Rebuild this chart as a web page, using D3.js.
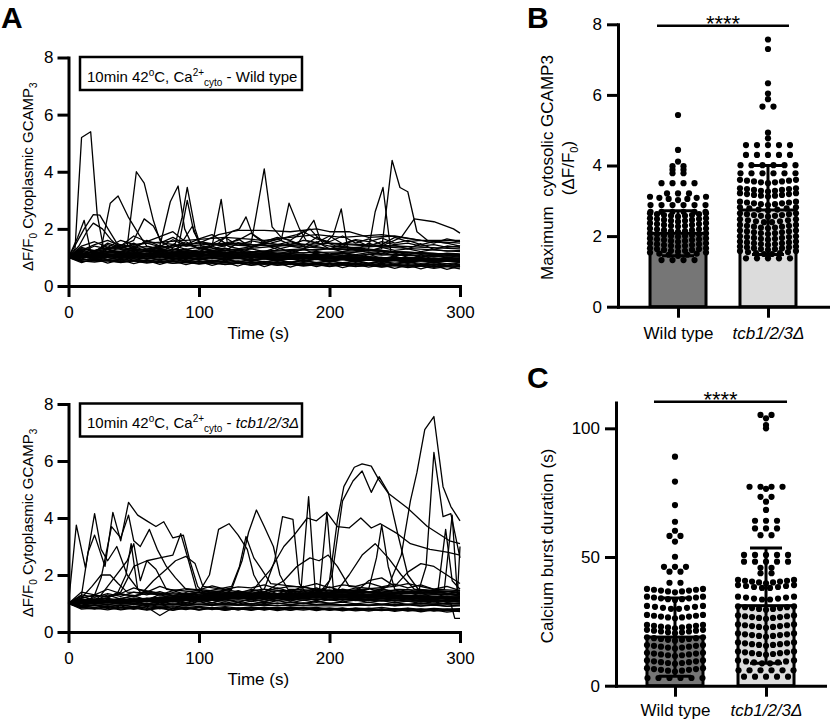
<!DOCTYPE html>
<html><head><meta charset="utf-8">
<script src="https://cdn.jsdelivr.net/npm/d3@7"></script>
<style>
body{margin:0;background:#fff;}
svg{display:block;}
text{white-space:pre;}
</style></head><body>
<svg id="chart" width="830" height="719"></svg>
<script>
// ---------------- DATA ----------------
const xTicksA = [0, 100, 200, 300];
const yTicksA = [0, 2, 4, 6, 8];
const yTicksB = [0, 2, 4, 6, 8];
const yTicksC = [0, 50, 100];
const groups = ["Wild type", "tcb1/2/3Δ"];

// baseline traces sampled every 10 s
const timeGrid = [0,10,20,30,40,50,60,70,80,90,100,110,120,130,140,150,160,170,180,190,200,210,220,230,240,250,260,270,280,290,300];

const wtBaseline = [
[1.00,1.05,1.10,1.08,1.12,1.06,1.02,1.05,0.98,1.00,0.96,0.99,0.95,0.97,0.93,0.96,0.92,0.95,0.90,0.94,0.91,0.93,0.89,0.92,0.90,0.88,0.91,0.87,0.90,0.86,0.89],
[1.00,0.92,0.95,0.90,0.93,0.88,0.91,0.86,0.89,0.85,0.88,0.84,0.86,0.82,0.85,0.80,0.84,0.79,0.82,0.78,0.81,0.77,0.80,0.76,0.79,0.75,0.78,0.74,0.77,0.73,0.76],
[1.00,1.15,1.20,1.18,1.22,1.25,1.20,1.23,1.18,1.21,1.15,1.19,1.14,1.17,1.12,1.15,1.10,1.14,1.08,1.12,1.10,1.13,1.07,1.11,1.08,1.12,1.06,1.10,1.05,1.09,1.04],
[1.00,0.85,0.90,0.87,0.84,0.88,0.83,0.86,0.80,0.84,0.78,0.82,0.76,0.80,0.74,0.79,0.72,0.77,0.70,0.75,0.68,0.74,0.69,0.72,0.66,0.71,0.64,0.70,0.62,0.68,0.60],
[1.00,1.30,1.25,1.35,1.28,1.32,1.26,1.30,1.22,1.27,1.20,1.24,1.18,1.25,1.16,1.22,1.14,1.20,1.15,1.21,1.12,1.18,1.10,1.17,1.13,1.19,1.11,1.16,1.09,1.15,1.12],
[1.00,1.02,0.98,1.04,0.97,1.01,0.95,0.99,0.93,0.98,0.92,0.96,0.94,0.97,0.91,0.95,0.89,0.94,0.88,0.93,0.87,0.92,0.86,0.91,0.85,0.90,0.84,0.89,0.83,0.88,0.85],
[1.00,1.10,1.05,1.12,1.08,1.15,1.10,1.13,1.07,1.11,1.04,1.08,1.02,1.06,1.00,1.05,0.99,1.03,0.98,1.02,0.97,1.01,0.96,1.00,0.95,0.99,0.94,0.98,0.93,0.97,0.95],
[1.00,0.95,0.88,0.92,0.86,0.90,0.85,0.82,0.87,0.81,0.85,0.79,0.83,0.78,0.82,0.76,0.81,0.75,0.80,0.74,0.79,0.73,0.77,0.72,0.76,0.71,0.75,0.70,0.74,0.69,0.72],
[1.00,1.20,1.40,1.30,1.45,1.35,1.38,1.30,1.42,1.28,1.36,1.25,1.33,1.22,1.30,1.20,1.35,1.18,1.28,1.25,1.32,1.20,1.30,1.22,1.35,1.25,1.30,1.20,1.28,1.22,1.25],
[1.00,1.08,1.00,1.06,0.99,1.04,0.97,1.02,0.96,1.01,0.95,1.00,0.94,0.98,0.92,0.97,0.91,0.96,0.90,0.95,0.89,0.94,0.88,0.93,0.87,0.92,0.86,0.91,0.85,0.90,0.88],
[1.00,0.90,0.97,0.93,0.99,0.94,0.98,0.92,0.96,0.90,0.94,0.88,0.92,0.86,0.90,0.85,0.89,0.84,0.88,0.83,0.87,0.82,0.86,0.81,0.85,0.80,0.84,0.79,0.83,0.78,0.82],
[1.00,1.25,1.15,1.22,1.18,1.40,1.20,1.25,1.15,1.30,1.12,1.20,1.10,1.25,1.08,1.15,1.05,1.12,1.30,1.10,1.06,1.15,1.05,1.10,1.20,1.05,1.12,1.02,1.08,1.00,1.06],
[1.00,0.88,0.84,0.90,0.82,0.88,0.80,0.86,0.79,0.84,0.77,0.82,0.75,0.80,0.72,0.78,0.74,0.77,0.72,0.76,0.70,0.75,0.68,0.73,0.67,0.72,0.70,0.74,0.65,0.71,0.68],
[1.00,1.12,1.18,1.10,1.16,1.09,1.14,1.07,1.12,1.05,1.10,1.04,1.08,1.02,1.06,1.01,1.05,0.99,1.04,0.98,1.02,0.97,1.01,0.96,1.00,0.95,0.99,0.94,0.98,0.93,0.96],
[1.00,1.18,1.05,1.28,1.10,1.22,1.02,1.30,1.08,1.15,0.98,1.20,1.05,1.12,0.95,1.18,1.00,1.10,0.92,1.15,0.98,1.08,0.90,1.12,0.95,1.05,0.88,1.10,0.92,1.02,0.95],
[1.00,0.82,0.96,0.80,0.92,0.78,0.90,0.76,0.88,0.75,0.86,0.72,0.84,0.70,0.85,0.68,0.82,0.66,0.80,0.68,0.78,0.64,0.76,0.66,0.74,0.62,0.73,0.60,0.72,0.58,0.70],
[1.00,1.35,1.22,1.45,1.30,1.50,1.28,1.42,1.25,1.48,1.30,1.40,1.22,1.52,1.35,1.45,1.28,1.40,1.32,1.55,1.30,1.45,1.25,1.50,1.35,1.42,1.30,1.48,1.28,1.40,1.35],
[1.00,0.95,1.08,0.92,1.05,0.90,1.03,0.88,1.00,0.86,0.98,0.85,0.96,0.83,0.95,0.82,0.93,0.80,0.92,0.79,0.90,0.78,0.88,0.76,0.87,0.75,0.85,0.74,0.84,0.72,0.82],
[1.00,1.22,1.12,1.30,1.15,1.25,1.10,1.20,1.06,1.18,1.04,1.15,1.02,1.12,1.00,1.10,0.98,1.08,0.97,1.06,0.95,1.05,0.94,1.03,0.92,1.02,0.91,1.00,0.90,0.98,0.92],
[1.00,1.05,0.92,1.00,0.90,0.97,0.87,0.95,0.85,0.93,0.83,0.90,0.80,0.88,0.78,0.86,0.77,0.84,0.75,0.82,0.74,0.80,0.72,0.78,0.70,0.77,0.69,0.75,0.68,0.72,0.66],
[1.00,1.40,1.55,1.35,1.60,1.45,1.50,1.38,1.62,1.40,1.55,1.48,1.70,1.42,1.58,1.50,1.65,1.45,1.60,1.52,1.75,1.48,1.62,1.55,1.68,1.50,1.60,1.45,1.55,1.50,1.58],
[1.00,1.15,0.98,1.10,0.95,1.08,0.93,1.06,0.92,1.05,0.90,1.02,0.88,1.00,0.87,0.98,0.86,0.97,0.85,0.95,0.84,0.94,0.83,0.92,0.82,0.91,0.80,0.90,0.80,0.88,0.82],
[1.00,1.25,1.45,1.60,1.40,1.75,1.55,1.50,1.70,1.45,1.65,1.80,1.50,1.60,1.85,1.55,1.70,1.60,1.90,1.65,1.55,1.75,1.50,1.65,1.45,1.70,1.55,1.60,1.50,1.65,1.55],
[1.00,1.30,1.20,1.50,1.35,1.30,1.60,1.40,1.35,1.55,1.30,1.45,1.40,1.65,1.35,1.50,1.45,1.55,1.40,1.70,1.50,1.45,1.60,1.40,1.55,1.45,1.50,1.40,1.45,1.35,1.40]
];

// traces with bursts: [time (s), ΔF/F0]
const wtBursts = [
[[0,1],[5,1.3],[10,5.2],[17,5.4],[22,2.5],[27,1.3],[40,1.2],[60,1.1],[80,1.15],[100,1.0],[130,1.05],[160,0.95],[200,1.0],[240,0.92],[270,0.95],[300,0.9]],
[[0,1],[15,1.1],[30,1.2],[45,1.4],[52,4.0],[58,3.6],[65,2.3],[70,1.6],[80,1.3],[100,1.2],[130,1.1],[160,1.05],[200,1.1],[240,1.0],[300,0.95]],
[[0,1],[10,1.1],[25,1.3],[32,2.9],[38,3.15],[46,2.4],[54,1.8],[60,1.4],[80,1.2],[110,1.1],[150,1.0],[200,0.95],[250,0.9],[300,0.88]],
[[0,1],[6,1.5],[12,2.0],[19,2.5],[24,2.48],[31,1.95],[37,1.5],[45,1.3],[70,1.2],[100,1.1],[150,1.05],[200,1.0],[300,0.95]],
[[0,1],[8,1.4],[14,1.9],[19,2.2],[26,2.0],[33,1.6],[40,1.3],[60,1.2],[90,1.1],[140,1.0],[200,0.98],[300,0.92]],
[[0,1],[7,1.7],[12,2.3],[17,1.2],[25,1.1],[60,1.05],[120,1.0],[200,0.95],[300,0.9]],
[[0,1],[30,1.1],[60,1.2],[70,1.4],[78,2.95],[84,3.5],[89,2.0],[95,1.4],[110,1.2],[150,1.1],[200,1.0],[300,0.95]],
[[0,1],[40,1.1],[75,1.3],[82,1.5],[87,2.4],[91,3.45],[97,2.0],[102,1.3],[130,1.1],[200,1.0],[300,0.9]],
[[0,1],[50,1.1],[84,1.3],[91,3.0],[96,1.9],[102,1.4],[140,1.1],[220,1.0],[300,0.92]],
[[0,1],[60,1.05],[100,1.2],[110,1.4],[117,3.03],[122,1.4],[140,1.2],[200,1.05],[300,0.9]],
[[0,1],[60,1.1],[110,1.3],[128,1.5],[140,1.5],[150,4.1],[156,2.07],[163,1.7],[175,1.5],[200,1.3],[250,1.2],[300,1.1]],
[[0,1],[80,1.1],[130,1.3],[155,1.5],[163,1.6],[169,2.9],[177,2.0],[182,1.6],[200,1.4],[240,1.2],[300,1.05]],
[[0,1],[100,1.1],[180,1.3],[197,1.5],[203,1.8],[209,2.7],[214,1.3],[240,1.1],[300,1.0]],
[[0,1],[100,1.05],[200,1.1],[225,1.2],[230,1.3],[235,2.6],[241,3.45],[247,1.2],[260,1.0],[300,0.9]],
[[0,1],[120,1.1],[220,1.2],[240,1.3],[248,4.4],[254,3.45],[260,3.3],[267,1.9],[275,1.6],[290,1.5],[300,1.4]],
[[0,1],[100,1.1],[200,1.3],[240,1.4],[255,1.7],[265,2.35],[280,2.25],[295,2.0],[300,1.85]],
[[0,1],[100,1.2],[115,1.5],[125,1.9],[131,2.0],[136,2.42],[141,1.8],[150,1.5],[200,1.3],[300,1.1]],
[[0,1],[100,1.15],[160,1.4],[176,1.5],[182,1.9],[188,2.3],[193,1.6],[205,1.4],[250,1.2],[300,1.1]],
[[0,1],[60,1.3],[100,1.5],[115,1.8],[130,1.95],[150,1.95],[170,1.9],[190,2.0],[200,1.9],[215,1.9],[230,1.7],[250,1.75],[270,1.6],[300,1.6]],
[[0,1],[20,1.2],[40,1.4],[50,1.6],[58,2.35],[65,2.1],[72,1.5],[90,1.4],[120,1.5],[160,1.4],[200,1.5],[250,1.4],[300,1.3]],
[[0,1],[30,1.3],[60,1.5],[90,1.6],[120,1.7],[150,1.6],[170,1.7],[190,1.8],[210,1.7],[240,1.8],[270,1.6],[300,1.5]],
[[0,1],[40,1.2],[80,1.9],[88,1.6],[95,2.1],[100,1.5],[140,1.4],[175,1.8],[185,2.0],[195,1.5],[300,1.2]]
];

const tcbBaseline = [
[1.00,1.08,1.12,1.10,1.15,1.12,1.18,1.14,1.20,1.16,1.22,1.18,1.24,1.20,1.22,1.18,1.25,1.20,1.28,1.22,1.26,1.20,1.25,1.22,1.28,1.24,1.26,1.20,1.24,1.22,1.18],
[1.00,0.92,0.95,0.90,0.94,0.88,0.93,0.87,0.92,0.86,0.90,0.85,0.89,0.84,0.88,0.83,0.87,0.82,0.86,0.81,0.85,0.80,0.84,0.82,0.86,0.80,0.84,0.79,0.83,0.80,0.82],
[1.00,1.20,1.28,1.25,1.32,1.28,1.35,1.30,1.38,1.32,1.40,1.34,1.38,1.33,1.42,1.36,1.44,1.38,1.45,1.40,1.48,1.42,1.46,1.40,1.45,1.38,1.43,1.36,1.40,1.35,1.30],
[1.00,0.85,0.80,0.86,0.78,0.84,0.77,0.83,0.76,0.85,0.78,0.84,0.77,0.82,0.76,0.83,0.75,0.81,0.77,0.82,0.76,0.80,0.74,0.79,0.75,0.80,0.73,0.78,0.74,0.77,0.72],
[1.00,1.05,1.02,1.08,1.04,1.10,1.06,1.09,1.05,1.11,1.07,1.12,1.08,1.13,1.09,1.14,1.10,1.15,1.11,1.16,1.12,1.15,1.10,1.14,1.09,1.13,1.08,1.12,1.07,1.10,1.05],
[1.00,0.95,1.00,0.96,1.02,0.97,1.01,0.95,0.99,0.94,0.98,0.96,1.00,0.95,0.99,0.97,1.01,0.96,1.00,0.95,0.98,0.94,0.97,0.93,0.96,0.92,0.95,0.91,0.94,0.90,0.92],
[1.00,1.15,1.10,1.18,1.12,1.20,1.15,1.22,1.16,1.24,1.18,1.25,1.20,1.28,1.22,1.30,1.25,1.32,1.27,1.35,1.28,1.33,1.26,1.31,1.25,1.30,1.24,1.28,1.22,1.26,1.20],
[1.00,0.90,0.86,0.92,0.85,0.90,0.83,0.88,0.82,0.87,0.80,0.86,0.79,0.85,0.80,0.87,0.81,0.88,0.83,0.86,0.80,0.85,0.78,0.84,0.77,0.82,0.76,0.81,0.75,0.80,0.78],
[1.00,1.10,1.04,1.08,1.00,1.06,0.99,1.05,0.98,1.03,0.97,1.02,0.96,1.04,0.98,1.05,0.99,1.06,1.00,1.07,1.01,1.05,0.99,1.04,0.98,1.03,0.97,1.02,0.96,1.00,0.98],
[1.00,1.30,1.22,1.35,1.25,1.40,1.30,1.42,1.28,1.38,1.26,1.40,1.30,1.45,1.32,1.50,1.35,1.48,1.40,1.55,1.38,1.50,1.42,1.52,1.40,1.48,1.36,1.45,1.38,1.42,1.35],
[1.00,0.88,0.93,0.89,0.95,0.90,0.96,0.91,0.97,0.92,0.98,0.93,0.99,0.94,1.00,0.95,1.01,0.96,1.02,0.97,1.00,0.95,0.99,0.94,0.98,0.93,0.97,0.92,0.96,0.91,0.94],
[1.00,1.02,1.12,1.05,1.15,1.08,1.18,1.10,1.20,1.12,1.22,1.14,1.25,1.16,1.23,1.15,1.28,1.18,1.30,1.20,1.32,1.22,1.30,1.19,1.28,1.17,1.26,1.15,1.24,1.14,1.20],
[1.00,0.80,0.84,0.78,0.86,0.80,0.88,0.58,0.85,0.79,0.87,0.80,0.84,0.78,0.86,0.79,0.83,0.77,0.85,0.78,0.82,0.76,0.84,0.77,0.81,0.75,0.83,0.76,0.80,0.74,0.78],
[1.00,1.12,1.06,1.14,1.08,1.16,1.10,1.18,1.12,1.19,1.13,1.20,1.14,1.22,1.16,1.24,1.18,1.26,1.20,1.27,1.21,1.25,1.19,1.24,1.18,1.22,1.16,1.20,1.15,1.18,1.12],
[1.00,1.25,1.10,1.30,1.15,1.28,1.12,1.32,1.15,1.35,1.18,1.38,1.20,1.40,1.22,1.42,1.25,1.45,1.28,1.48,1.30,1.45,1.28,1.42,1.25,1.40,1.22,1.38,1.20,1.35,1.25],
[1.00,0.85,0.95,0.82,0.92,0.80,0.90,0.82,0.88,0.80,0.87,0.79,0.86,0.78,0.85,0.77,0.84,0.76,0.83,0.75,0.82,0.74,0.81,0.73,0.80,0.72,0.79,0.71,0.78,0.70,0.75],
[1.00,1.40,1.30,1.50,1.35,1.55,1.40,1.60,1.45,1.52,1.48,1.62,1.50,1.58,1.55,1.65,1.52,1.60,1.58,1.70,1.55,1.65,1.60,1.72,1.58,1.68,1.55,1.65,1.50,1.60,1.45],
[1.00,1.05,1.15,1.02,1.12,1.00,1.10,0.98,1.08,0.97,1.07,0.96,1.06,0.98,1.08,1.00,1.10,1.02,1.12,1.04,1.14,1.06,1.12,1.04,1.10,1.02,1.08,1.00,1.06,0.98,1.00],
[1.00,0.92,1.05,0.94,1.08,0.96,1.10,0.98,1.12,1.00,1.14,1.02,1.16,1.04,1.18,1.06,1.20,1.08,1.22,1.10,1.24,1.12,1.22,1.10,1.20,1.08,1.18,1.06,1.16,1.04,1.10],
[1.00,1.18,1.30,1.22,1.35,1.25,1.42,1.30,1.45,1.32,1.40,1.28,1.45,1.35,1.50,1.40,1.55,1.42,1.60,1.45,1.58,1.42,1.55,1.40,1.52,1.38,1.50,1.36,1.48,1.34,1.40],
[1.00,0.88,0.82,0.90,0.80,0.87,0.79,0.86,0.78,0.85,0.77,0.84,0.76,0.83,0.78,0.85,0.79,0.86,0.80,0.84,0.78,0.83,0.77,0.82,0.76,0.81,0.75,0.80,0.74,0.79,0.73],
[1.00,1.10,1.20,1.08,1.18,1.06,1.16,1.05,1.15,1.04,1.14,1.03,1.13,1.05,1.15,1.07,1.17,1.09,1.19,1.11,1.21,1.13,1.20,1.12,1.18,1.10,1.16,1.08,1.14,1.06,1.08]
];

const tcbBursts = [
[[0,1],[60,1.1],[120,1.2],[200,1.3],[235,1.4],[245,1.6],[255,2.7],[262,4.6],[267,5.6],[273,7.1],[280,7.56],[287,5.1],[293,4.4],[300,3.9]],
[[0,1],[80,1.1],[160,1.2],[240,1.3],[268,1.4],[274,2.3],[280,6.3],[287,4.05],[293,4.15],[300,2.6]],
[[0,1],[70,1.1],[150,1.2],[190,1.25],[200,1.8],[206,3.9],[211,5.1],[219,5.78],[225,5.9],[232,5.82],[238,5.33],[245,4.87],[260,4.34],[275,3.7],[292,3.2],[300,3.1]],
[[0,1],[90,1.15],[180,1.3],[197,1.5],[202,2.0],[210,4.6],[218,5.3],[225,5.65],[232,4.9],[238,5.45],[245,4.9],[252,3.5],[260,2.0],[268,1.5],[300,1.3]],
[[0,1],[50,1.1],[100,1.2],[140,1.4],[155,2.2],[165,3.0],[172,3.35],[183,4.0],[190,3.9],[198,4.2],[206,3.7],[215,3.65],[224,4.0],[232,3.65],[239,3.8],[252,3.45],[262,3.1],[277,2.9],[290,2.8],[300,2.7]],
[[0,1],[6,3.75],[13,2.25],[20,4.15],[25,2.9],[30,2.5],[37,3.0],[45,2.0],[55,1.4],[70,1.3],[120,1.2],[200,1.15],[300,1.1]],
[[0,1],[10,1.3],[15,2.8],[20,3.4],[28,2.3],[34,4.2],[40,3.2],[46,4.55],[53,4.1],[60,3.9],[67,3.7],[73,3.87],[80,3.3],[88,3.4],[93,2.5],[99,1.6],[105,1.3],[160,1.2],[230,1.25],[300,1.15]],
[[0,1],[15,1.1],[20,1.3],[25,1.9],[33,3.7],[40,3.3],[46,4.1],[50,3.2],[55,3.0],[62,3.6],[68,2.9],[75,2.3],[82,1.9],[90,1.5],[130,1.3],[200,1.2],[300,1.2]],
[[0,1],[20,1.1],[25,1.3],[35,1.9],[45,2.5],[50,3.1],[55,1.8],[60,2.5],[67,2.2],[75,1.5],[120,1.3],[200,1.25],[300,1.1]],
[[0,1],[30,1.2],[40,1.4],[50,2.3],[60,2.5],[70,2.6],[80,2.7],[86,3.45],[92,2.5],[98,1.5],[140,1.3],[220,1.3],[300,1.2]],
[[0,1],[30,1.2],[38,1.4],[44,2.0],[48,3.1],[53,1.5],[90,1.2],[180,1.15],[300,1.05]],
[[0,1],[10,1.2],[18,1.6],[25,2.0],[32,2.0],[38,1.7],[45,1.4],[100,1.3],[200,1.2],[300,1.15]],
[[0,1],[30,1.1],[55,1.3],[65,1.8],[75,2.2],[82,2.5],[90,2.65],[97,2.4],[103,1.6],[140,1.35],[250,1.3],[300,1.2]],
[[0,1],[60,1.15],[100,1.4],[108,2.0],[115,3.6],[123,3.8],[130,3.4],[137,2.9],[142,2.0],[148,1.5],[200,1.35],[300,1.2]],
[[0,1],[80,1.2],[125,1.5],[133,2.5],[138,3.5],[144,4.28],[150,3.7],[157,3.0],[162,2.0],[168,1.5],[220,1.4],[300,1.3]],
[[0,1],[100,1.25],[150,1.5],[158,2.5],[164,4.05],[172,3.95],[177,1.7],[183,1.3],[300,1.2]],
[[0,1],[100,1.2],[170,1.3],[178,1.4],[184,4.75],[189,1.5],[230,1.3],[300,1.25]],
[[0,1],[120,1.2],[185,1.25],[192,1.3],[198,4.2],[203,1.5],[250,1.3],[300,1.2]],
[[0,1],[90,1.2],[150,1.4],[165,1.8],[175,2.3],[185,2.6],[192,2.5],[199,2.7],[206,2.3],[215,1.6],[260,1.4],[300,1.3]],
[[0,1],[80,1.2],[125,1.6],[131,2.3],[136,3.35],[142,2.6],[148,2.2],[155,1.7],[210,1.4],[300,1.3]],
[[0,1],[140,1.3],[250,1.4],[283,1.4],[289,3.6],[294,1.8],[300,1.5]],
[[0,1],[140,1.25],[250,1.35],[288,1.5],[294,4.1],[298,1.3],[300,3.0]],
[[0,1],[120,1.3],[220,1.4],[230,1.5],[236,2.6],[240,3.75],[245,2.3],[250,1.5],[300,1.4]],
[[0,1],[100,1.3],[195,1.35],[205,1.4],[215,2.0],[225,2.7],[235,3.1],[245,2.6],[255,2.0],[265,1.5],[300,1.4]],
[[0,1],[100,1.25],[200,1.4],[250,1.6],[260,2.1],[270,2.4],[280,2.3],[290,2.0],[300,1.7]],
[[0,1],[120,1.3],[220,1.4],[230,1.8],[240,1.9],[250,1.6],[260,1.7],[280,1.5],[300,1.45]],
[[0,1],[100,0.95],[200,0.92],[293,1.0],[296,0.48],[300,0.48]]
];

// Panel B: maximum cytosolic GCAMP3 (ΔF/F0): mean, SD, and individual cells as [value, count]
const maxMeans = [2.08, 2.74];
const maxSD = [0.64, 1.26];
const maxDotsWT = [[5.43,1],[4.44,1],[4.11,1],[3.98,2],[3.88,2],[3.78,2],[3.5,4],[3.21,3],[3.02,7],[2.88,6],[2.69,6],[2.55,9],[2.41,9],[2.27,9],[2.12,9],[1.98,9],[1.84,9],[1.7,9],[1.56,9],[1.44,7],[1.32,4]];
const maxDotsTcb = [[7.57,1],[7.3,1],[6.33,1],[6.04,1],[5.88,1],[5.67,2],[4.93,1],[4.77,1],[4.58,5],[4.3,5],[4.01,6],[3.78,6],[3.5,9],[3.26,9],[3.12,9],[2.88,9],[2.72,7],[2.55,9],[2.38,8],[2.22,9],[2.06,9],[1.9,9],[1.75,9],[1.61,9],[1.48,8],[1.37,5]];

// Panel C: calcium burst duration (s)
const durMeans = [18.9, 31.1];
const durSD = [15.2, 22.4];
const durDotsWT = [[89,1],[79.3,1],[70.2,1],[63.7,1],[60.2,1],[58.2,2],[56,1],[50.1,1],[46.2,3],[44.3,2],[40,2],[36.3,9],[33.3,9],[29.7,8],[26.2,9],[22.3,9],[20.4,9],[17.5,9],[14.5,9],[11.5,9],[8.5,9],[5.5,9],[3,6]];
const durDotsTcb = [[105.2,2],[103.9,1],[101.3,1],[100,1],[77.3,4],[76.5,1],[73.4,2],[71.5,1],[68.3,1],[64.1,3],[61.1,3],[58.5,2],[50.8,5],[48.2,5],[45.8,2],[43.7,2],[39.8,9],[37.8,8],[33.3,8],[29.5,9],[26,9],[22.5,9],[19,9],[15.5,9],[12,9],[8.5,8],[6,6],[3.5,5]];

// ---------------- DRAWING ----------------
const FONT = '"Liberation Sans", Arial, Helvetica, sans-serif';
const svg = d3.select("#chart");
svg.append("rect").attr("width",830).attr("height",719).attr("fill","#fff");

function styleAxis(g){
  g.attr("font-family", FONT).attr("font-size", 17);
  g.select(".domain").attr("stroke","#000").attr("stroke-width",3).attr("stroke-linecap","square");
  g.selectAll(".tick line").attr("stroke","#000").attr("stroke-width",3);
  g.selectAll(".tick text").attr("fill","#000");
}

function panelLetter(txt, x, y){
  svg.append("text").attr("x",x).attr("y",y).attr("font-family",FONT)
    .attr("font-size",30).attr("font-weight","bold").text(txt);
}

// ---- Panel A (two trace plots)
function tracePanel(yTop, yBot, baseline, bursts, italicName, plainName){
  const x = d3.scaleLinear().domain([0,300]).range([68.5,460]);
  const y = d3.scaleLinear().domain([0,8]).range([yBot,yTop]);
  const g = svg.append("g");
  const line = d3.line().x(d=>x(d[0])).y(d=>y(d[1]));
  const all = baseline.map(r => r.map((v,i)=>[timeGrid[i], v])).concat(bursts);
  g.selectAll("path.trace").data(all).join("path").attr("class","trace")
    .attr("d", line).attr("fill","none").attr("stroke","#000")
    .attr("stroke-width",1.3).attr("stroke-linejoin","round");

  g.append("g").attr("transform",`translate(0,${yBot})`)
    .call(d3.axisBottom(x).tickValues(xTicksA).tickSize(11).tickSizeOuter(0).tickPadding(9))
    .call(styleAxis);
  g.append("g").attr("transform",`translate(${x(0)},0)`)
    .call(d3.axisLeft(y).tickValues(yTicksA).tickSize(11).tickSizeOuter(0).tickPadding(4))
    .call(styleAxis);

  g.append("text").attr("x", (x(0)+x(300))/2 - 6).attr("y", yBot+53)
    .attr("text-anchor","middle").attr("font-family",FONT).attr("font-size",17).text("Time (s)");
  const yl = g.append("text").attr("transform",`translate(33,${(yTop+yBot)/2+5}) rotate(-90)`)
    .attr("text-anchor","middle").attr("font-family",FONT).attr("font-size",15);
  yl.append("tspan").text("ΔF/F");
  yl.append("tspan").attr("font-size",10).attr("dy",4).text("0");
  yl.append("tspan").attr("dy",-4).text(" Cytoplasmic GCAMP");
  yl.append("tspan").attr("font-size",10).attr("dy",4).text("3");

  g.append("rect").attr("x",80).attr("y",yTop-0.5).attr("width",222).attr("height",33)
    .attr("fill","#fff").attr("stroke","#000").attr("stroke-width",2.5);
  const t = g.append("text").attr("x",87).attr("y",yTop+24).attr("font-family",FONT).attr("font-size",15);
  t.append("tspan").text("10min 42");
  t.append("tspan").attr("font-size",10).attr("dy",-6).text("o");
  t.append("tspan").attr("dy",6).text("C, Ca");
  t.append("tspan").attr("font-size",10).attr("dy",-6).text("2+");
  t.append("tspan").attr("font-size",10).attr("dy",10).text("cyto");
  t.append("tspan").attr("dy",-4).text(" - ");
  if (italicName) t.append("tspan").attr("font-style","italic").text(italicName);
  else t.append("tspan").text(plainName);
}

tracePanel(57.5, 286, wtBaseline, wtBursts, null, "Wild type");
tracePanel(404, 632, tcbBaseline, tcbBursts, "tcb1/2/3Δ", null);
panelLetter("A", 1, 28);

// ---- Bar + dot panels (column scatter layout: equal values side by side)
function swarm(rows){
  const pts = [];
  rows.forEach(([v,n])=>{
    const sp = n>1 ? Math.min(11, 56/(n-1)) : 0;
    for(let i=0;i<n;i++){
      const dx = (i-(n-1)/2)*sp;
      pts.push({v, dx, lift: n>=7 ? Math.abs(dx)*0.12 : 0});
    }
  });
  return pts;
}

function barPanel(opt){
  const x = d3.scalePoint().domain(groups).range(opt.xr).padding(opt.pad);
  const y = d3.scaleLinear().domain(opt.ydom).range(opt.yr);
  const g = svg.append("g");
  const fills = ["#767676","#dcdcdc"];
  const bw = 56;
  groups.forEach((c,i)=>{
    const cx = x(c);
    g.append("rect").attr("x",cx-bw/2).attr("y",y(opt.means[i]))
      .attr("width",bw).attr("height",y(0)-y(opt.means[i]))
      .attr("fill",fills[i]).attr("stroke","#000").attr("stroke-width",3);
    g.append("g").selectAll("circle").data(swarm(opt.dots[i])).join("circle")
      .attr("cx",d=>cx+d.dx).attr("cy",d=>y(d.v)-d.lift).attr("r",3.1).attr("fill","#000");
    const lo = y(opt.means[i]-opt.sd[i]), hi = y(opt.means[i]+opt.sd[i]);
    const eg = g.append("g").attr("stroke","#000").attr("stroke-width",3);
    eg.append("line").attr("x1",cx).attr("x2",cx).attr("y1",lo).attr("y2",hi);
    eg.append("line").attr("x1",cx-16).attr("x2",cx+16).attr("y1",hi).attr("y2",hi);
    eg.append("line").attr("x1",cx-16).attr("x2",cx+16).attr("y1",lo).attr("y2",lo);
  });
  const xa = g.append("g").attr("transform",`translate(0,${y(0)})`)
    .call(d3.axisBottom(x).tickSize(11).tickSizeOuter(0).tickPadding(opt.xpad))
    .call(styleAxis);
  xa.selectAll(".tick text").attr("font-style",(d,i)=> i===1 ? "italic" : "normal");
  g.append("g").attr("transform",`translate(${opt.xr[0]},0)`)
    .call(d3.axisLeft(y).tickValues(opt.yticks).tickSize(11).tickSizeOuter(0).tickPadding(5))
    .call(styleAxis);
  const sx0 = x(groups[0]) - 21, sx1 = x(groups[1]) + 21;
  g.append("line").attr("x1",sx0).attr("x2",sx1).attr("y1",opt.sigY).attr("y2",opt.sigY)
    .attr("stroke","#000").attr("stroke-width",2.5);
  g.append("text").attr("x",(x(groups[0])+x(groups[1]))/2).attr("y",opt.sigY+5.5)
    .attr("text-anchor","middle").attr("font-family",FONT).attr("font-size",22).text("****");
  return g;
}

barPanel({xr:[618,828], pad:0.667, ydom:[0,8], yr:[306.7,24.3], yticks:yTicksB,
  means:maxMeans, sd:maxSD, dots:[maxDotsWT,maxDotsTcb], sigY:25.7, xpad:9});
barPanel({xr:[616,825], pad:0.648, ydom:[0,110], yr:[685.7,402.6], yticks:yTicksC,
  means:durMeans, sd:durSD, dots:[durDotsWT,durDotsTcb], sigY:401.7, xpad:7});

svg.append("text").attr("transform","translate(553,167.5) rotate(-90)")
  .attr("text-anchor","middle").attr("font-family",FONT).attr("font-size",17)
  .text("Maximum  cytosolic GCAMP3");
const bl2 = svg.append("text").attr("transform","translate(574,168) rotate(-90)")
  .attr("text-anchor","middle").attr("font-family",FONT).attr("font-size",17);
bl2.append("tspan").text("(ΔF/F");
bl2.append("tspan").attr("font-size",11).attr("dy",4).text("0");
bl2.append("tspan").attr("dy",-4).text(")");
svg.append("text").attr("transform","translate(553,546) rotate(-90)")
  .attr("text-anchor","middle").attr("font-family",FONT).attr("font-size",17)
  .text("Calcium burst duration (s)");

panelLetter("B", 527, 28);
panelLetter("C", 527, 388);
</script>
</body></html>
